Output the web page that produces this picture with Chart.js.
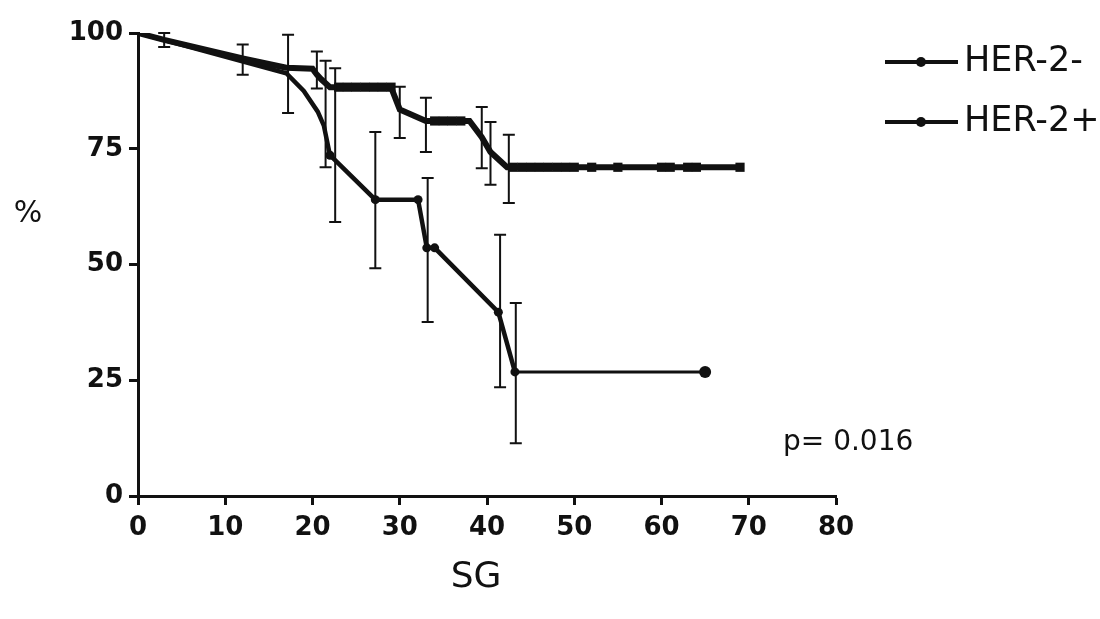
<!DOCTYPE html>
<html>
<head>
<meta charset="utf-8">
<script src="https://cdn.jsdelivr.net/npm/chart.js@4"></script>
<style>
html,body{margin:0;padding:0;background:#fff}
#wrap{width:1100px;height:619px}
</style>
</head>
<body>
<div id="wrap"><canvas id="kmChart"></canvas></div>
<script>
// survival curves (x = SG, y = %)
var negX = [0, 3, 12, 17, 20, 20.5, 21, 22, 29, 30, 33, 38, 39.4, 40.4, 42.3, 69]
var negY = [100, 98.5, 94.5, 92.5, 92.3, 91, 90, 88.3, 88.3, 83.5, 81, 81, 77.5, 74.3, 71, 71]
var posX = [0, 17, 19, 20.6, 21.3, 22, 27.2, 32.1, 33.1, 34, 41.3, 43.2, 65]
var posY = [100, 91.3, 87.5, 83, 80, 73.6, 64, 64, 53.6, 53.6, 39.7, 26.8, 26.8]

// censor ticks on HER-2- (small squares)
var negCensX = [23, 24, 25, 26, 27, 28, 29, 34, 35, 36, 37, 43, 44, 45, 46, 47, 48, 49, 50, 52, 55, 60, 61, 63, 64, 69]
var negCensY = [88.3, 88.3, 88.3, 88.3, 88.3, 88.3, 88.3, 81, 81, 81, 81, 71, 71, 71, 71, 71, 71, 71, 71, 71, 71, 71, 71, 71, 71, 71]
// dots on HER-2+
var posDotX = [22, 27.2, 32.1, 33.1, 34, 41.3, 43.2, 65]
var posDotY = [73.6, 64, 64, 53.6, 53.6, 39.7, 26.8, 26.8]

// error bars
var negErrX = [3, 12, 20.5, 30, 33, 39.4, 40.4, 42.5]
var negErrLo = [97, 91, 88, 77.3, 74.3, 70.8, 67.2, 63.3]
var negErrHi = [100, 97.5, 96, 88.4, 86, 84, 80.8, 78]
var posErrX = [17.2, 21.5, 22.6, 27.2, 33.2, 41.5, 43.3]
var posErrLo = [82.7, 71, 59.2, 49.2, 37.6, 23.5, 11.4]
var posErrHi = [99.6, 94, 92.4, 78.6, 68.7, 56.4, 41.7]

var seriesNames = ["HER-2-", "HER-2+"]
var xTitle = "SG"
var yTitle = "%"
var pText = "p= 0.016"

function pts(xs, ys) {
	var out = []
	for (var i = 0; i < xs.length; i++) out.push({x: xs[i], y: ys[i]})
	return out
}

var FONT = "'DejaVu Sans', Verdana, sans-serif"
var INK = "#111"

var errorBars = {
	id: "errorBars",
	afterDatasetsDraw: function(chart) {
		var c = chart.ctx, xs = chart.scales.x, ys = chart.scales.y
		var sets = [[negErrX, negErrLo, negErrHi], [posErrX, posErrLo, posErrHi]]
		c.save()
		c.strokeStyle = INK
		c.lineWidth = 2
		sets.forEach(function(s) {
			for (var i = 0; i < s[0].length; i++) {
				var px = xs.getPixelForValue(s[0][i])
				var lo = ys.getPixelForValue(s[1][i])
				var hi = ys.getPixelForValue(s[2][i])
				c.beginPath()
				c.moveTo(px, lo); c.lineTo(px, hi)
				c.moveTo(px - 6, lo); c.lineTo(px + 6, lo)
				c.moveTo(px - 6, hi); c.lineTo(px + 6, hi)
				c.stroke()
			}
		})
		c.restore()
	}
}

var extraText = {
	id: "extraText",
	afterDraw: function(chart) {
		var c = chart.ctx
		c.save()
		c.fillStyle = INK
		c.textBaseline = "middle"
		c.textAlign = "center"
		c.font = "30px " + FONT
		c.fillText(yTitle, 28, 214)
		c.font = "36px " + FONT
		c.fillText(xTitle, 476, 578)
		c.textAlign = "left"
		c.font = "28px " + FONT
		c.fillText(pText, 783, 443)
		// legend
		c.font = "35px " + FONT
		var rows = [62, 122]
		for (var i = 0; i < 2; i++) {
			var y = rows[i]
			c.strokeStyle = INK
			c.lineWidth = 4
			c.beginPath(); c.moveTo(885, y); c.lineTo(958, y); c.stroke()
			c.beginPath(); c.arc(921, y, 5, 0, Math.PI * 2); c.fill()
			c.fillText(seriesNames[i], 964, y)
		}
		c.restore()
	}
}

var ctx = document.getElementById("kmChart")
var chart = new Chart(ctx, {
	type: "scatter",
	data: {
		datasets: [
			{label: seriesNames[0], data: pts(negX, negY), showLine: true, borderColor: INK, borderWidth: 6, pointRadius: 0, tension: 0},
			{label: seriesNames[0] + " censored", data: pts(negCensX, negCensY), pointStyle: "rect", pointRadius: 6.5, backgroundColor: INK, borderColor: INK, borderWidth: 0},
			{label: seriesNames[1], data: pts(posX, posY), showLine: true, borderColor: INK, borderWidth: 4.5, pointRadius: 0, tension: 0,
				segment: {borderWidth: function(s) { return s.p0DataIndex >= posX.length - 2 ? 3 : 4.5 }}},
			{label: seriesNames[1] + " dots", data: pts(posDotX, posDotY), pointStyle: "circle",
				pointRadius: posDotX.map(function(v, i) { return i == posDotX.length - 1 ? 6 : 4.5 }),
				backgroundColor: INK, borderColor: INK, borderWidth: 0}
		]
	},
	options: {
		responsive: true,
		maintainAspectRatio: false,
		animation: false,
		layout: {padding: {top: 33, right: 264, left: 0, bottom: 0}},
		plugins: {legend: {display: false}, tooltip: {enabled: false}},
		scales: {
			x: {
				type: "linear", min: 0, max: 80,
				ticks: {stepSize: 10, color: INK, font: {family: FONT, size: 26, weight: "bold"}, padding: 8},
				grid: {drawOnChartArea: false, tickLength: 9, tickWidth: 3, tickColor: INK},
				border: {display: true, width: 3, color: INK},
				afterFit: function(s) { s.height = 123 }
			},
			y: {
				min: 0, max: 100,
				ticks: {stepSize: 25, color: INK, font: {family: FONT, size: 26, weight: "bold"}, padding: 6},
				grid: {drawOnChartArea: false, tickLength: 9, tickWidth: 3, tickColor: INK},
				border: {display: true, width: 3, color: INK},
				afterFit: function(s) { s.width = 138 }
			}
		}
	},
	plugins: [errorBars, extraText]
})
</script>
</body>
</html>
